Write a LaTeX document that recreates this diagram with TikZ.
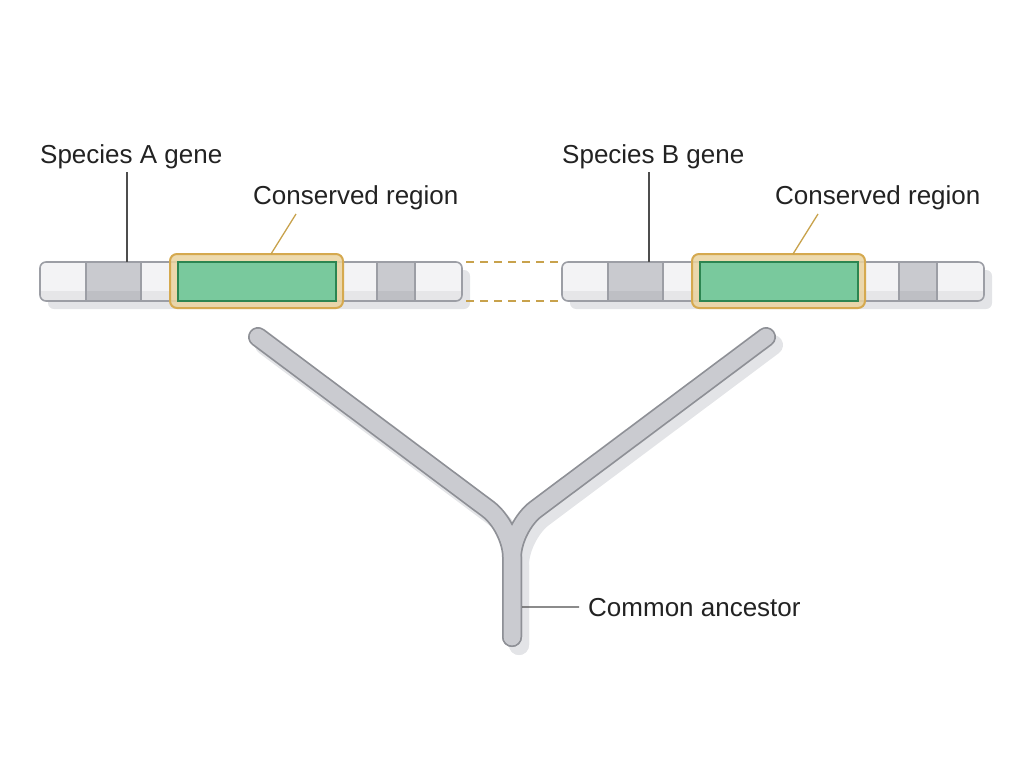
\documentclass[tikz,border=0pt]{standalone}
\usepackage{fontspec}
\setmainfont{Liberation Sans}
\usetikzlibrary{calc}
\definecolor{textdark}{HTML}{222222}
\definecolor{leadgrey}{HTML}{4D4D4D}
\definecolor{goldline}{HTML}{C8A24C}
\definecolor{shadowgrey}{HTML}{E3E4E7}
\definecolor{barlight}{HTML}{F3F3F5}
\definecolor{bardark}{HTML}{C9CACF}
\definecolor{barline}{HTML}{9C9EA5}
\definecolor{consfill}{HTML}{EAD3A0}
\definecolor{consline}{HTML}{D5A94F}
\definecolor{greenfill}{HTML}{79C99D}
\definecolor{greenline}{HTML}{2C8551}
\definecolor{tubefill}{HTML}{CACBD0}
\definecolor{tubeline}{HTML}{8E9096}
\tikzset{
  lbl/.style= {anchor=base west, inner sep=0, text=textdark, font=\fontsize{26}{31}\selectfont},
  bar/.style= {fill=barlight, rounded corners=6, inner sep=0, outer sep=0, minimum height=39pt},
  barframe/.style= {draw=barline, line width=1.6pt, rounded corners=6},
  divider/.style= {draw=barline, line width=1.4pt},
  consbox/.style= {draw=consline, line width=2pt, fill=consfill, fill opacity=0.85, rounded corners=7, inner sep=0, outer sep=0, minimum width=173pt, minimum height=54pt},
  corebox/.style= {draw=greenline, line width=1.8pt, fill=greenfill, inner sep=0, outer sep=0, minimum width=158pt, minimum height=39pt},
  leader/.style= {draw=leadgrey, line width=1.3pt},
  goldleader/.style= {draw=goldline, line width=1.3pt},
  dashline/.style= {draw=goldline, line width=1.3pt, dash pattern=on 8pt off 6pt},
  tubeshadow/.style= {draw=shadowgrey, line width=20pt, line cap=round, rounded corners=30},
  tubeedge/.style= {draw=tubeline, line width=20pt, line cap=round, rounded corners=30},
  tubecore/.style= {draw=tubefill, line width=16.5pt, line cap=round, rounded corners=30},
}

\begin{document}
\begin{tikzpicture}[x=1pt, y=-1pt]
  \useasboundingbox (0,0) rectangle (1024,765);

  % shadows under the genes
  \fill[shadowgrey, rounded corners=6] (48,270) rectangle (470,309);
  \fill[shadowgrey, rounded corners=6] (570,270) rectangle (992,309);

  % gene bars
  \node[bar, minimum width=422pt] (barA) at (251,281.5) {};
  \node[bar, minimum width=422pt] (barB) at (773,281.5) {};

  \fill[bardark] (86,262) rectangle (141,301);
  \fill[bardark] (377,262) rectangle (415,301);
  \fill[bardark] (608,262) rectangle (663,301);
  \fill[bardark] (899,262) rectangle (937,301);

  \begin{scope}
    \clip[rounded corners=6] (barA.north west) rectangle (barA.south east);
    \fill[black, opacity=0.05] (40,291) rectangle (462,301);
  \end{scope}
  \begin{scope}
    \clip[rounded corners=6] (barB.north west) rectangle (barB.south east);
    \fill[black, opacity=0.05] (562,291) rectangle (984,301);
  \end{scope}

  \draw[divider] (86,262) -- (86,301);
  \draw[divider] (141,262) -- (141,301);
  \draw[divider] (377,262) -- (377,301);
  \draw[divider] (415,262) -- (415,301);
  \draw[divider] (608,262) -- (608,301);
  \draw[divider] (663,262) -- (663,301);
  \draw[divider] (899,262) -- (899,301);
  \draw[divider] (937,262) -- (937,301);

  \draw[barframe] (barA.north west) rectangle (barA.south east);
  \draw[barframe] (barB.north west) rectangle (barB.south east);

  % conserved regions
  \node[consbox] (consA) at (256.5,281) {};
  \node[corebox] (coreA) at (257,281.5) {};
  \node[consbox] (consB) at (778.5,281) {};
  \node[corebox] (coreB) at (779,281.5) {};

  \draw[dashline, shorten <=4pt, shorten >=4pt] (barA.north east) -- (barB.north west);
  \draw[dashline, shorten <=4pt, shorten >=4pt] (barA.south east) -- (barB.south west);

  % labels
  \node[lbl] (specA) at (40,163) {Species A gene};
  \node[lbl] (consLblA) at (253,204) {Conserved region};
  \node[lbl] (specB) at (562,163) {Species B gene};
  \node[lbl] (consLblB) at (775,204) {Conserved region};
  \node[lbl] (ancestor) at (588,616) {Common ancestor};

  \coordinate (specAfoot) at (127,172);
  \coordinate (specBfoot) at (649,172);
  \coordinate (consAfoot) at (296,214);
  \coordinate (consAtip) at (271,254);
  \coordinate (consBfoot) at (818,214);
  \coordinate (consBtip) at (793,254);
  \coordinate (stemR) at (522,607);

  \draw[leader] (specAfoot) -- (specAfoot |- barA.north);
  \draw[leader] (specBfoot) -- (specBfoot |- barB.north);
  \draw[goldleader] (consAfoot) -- (consAtip);
  \draw[goldleader] (consBfoot) -- (consBtip);

  % the tree
  \begin{scope}[shift={(7,8)}]
    \draw[tubeshadow] (258,337) -- (512,527) -- (512,637);
    \draw[tubeshadow] (766,337) -- (512,527) -- (512,637);
  \end{scope}
  \draw[tubeedge] (258,337) -- (512,527) -- (512,637);
  \draw[tubeedge] (766,337) -- (512,527) -- (512,637);
  \draw[tubecore] (258,337) -- (512,527) -- (512,637);
  \draw[tubecore] (766,337) -- (512,527) -- (512,637);

  \draw[leader] (stemR) -- ([xshift=-9pt]ancestor.west);
\end{tikzpicture}
\end{document}
